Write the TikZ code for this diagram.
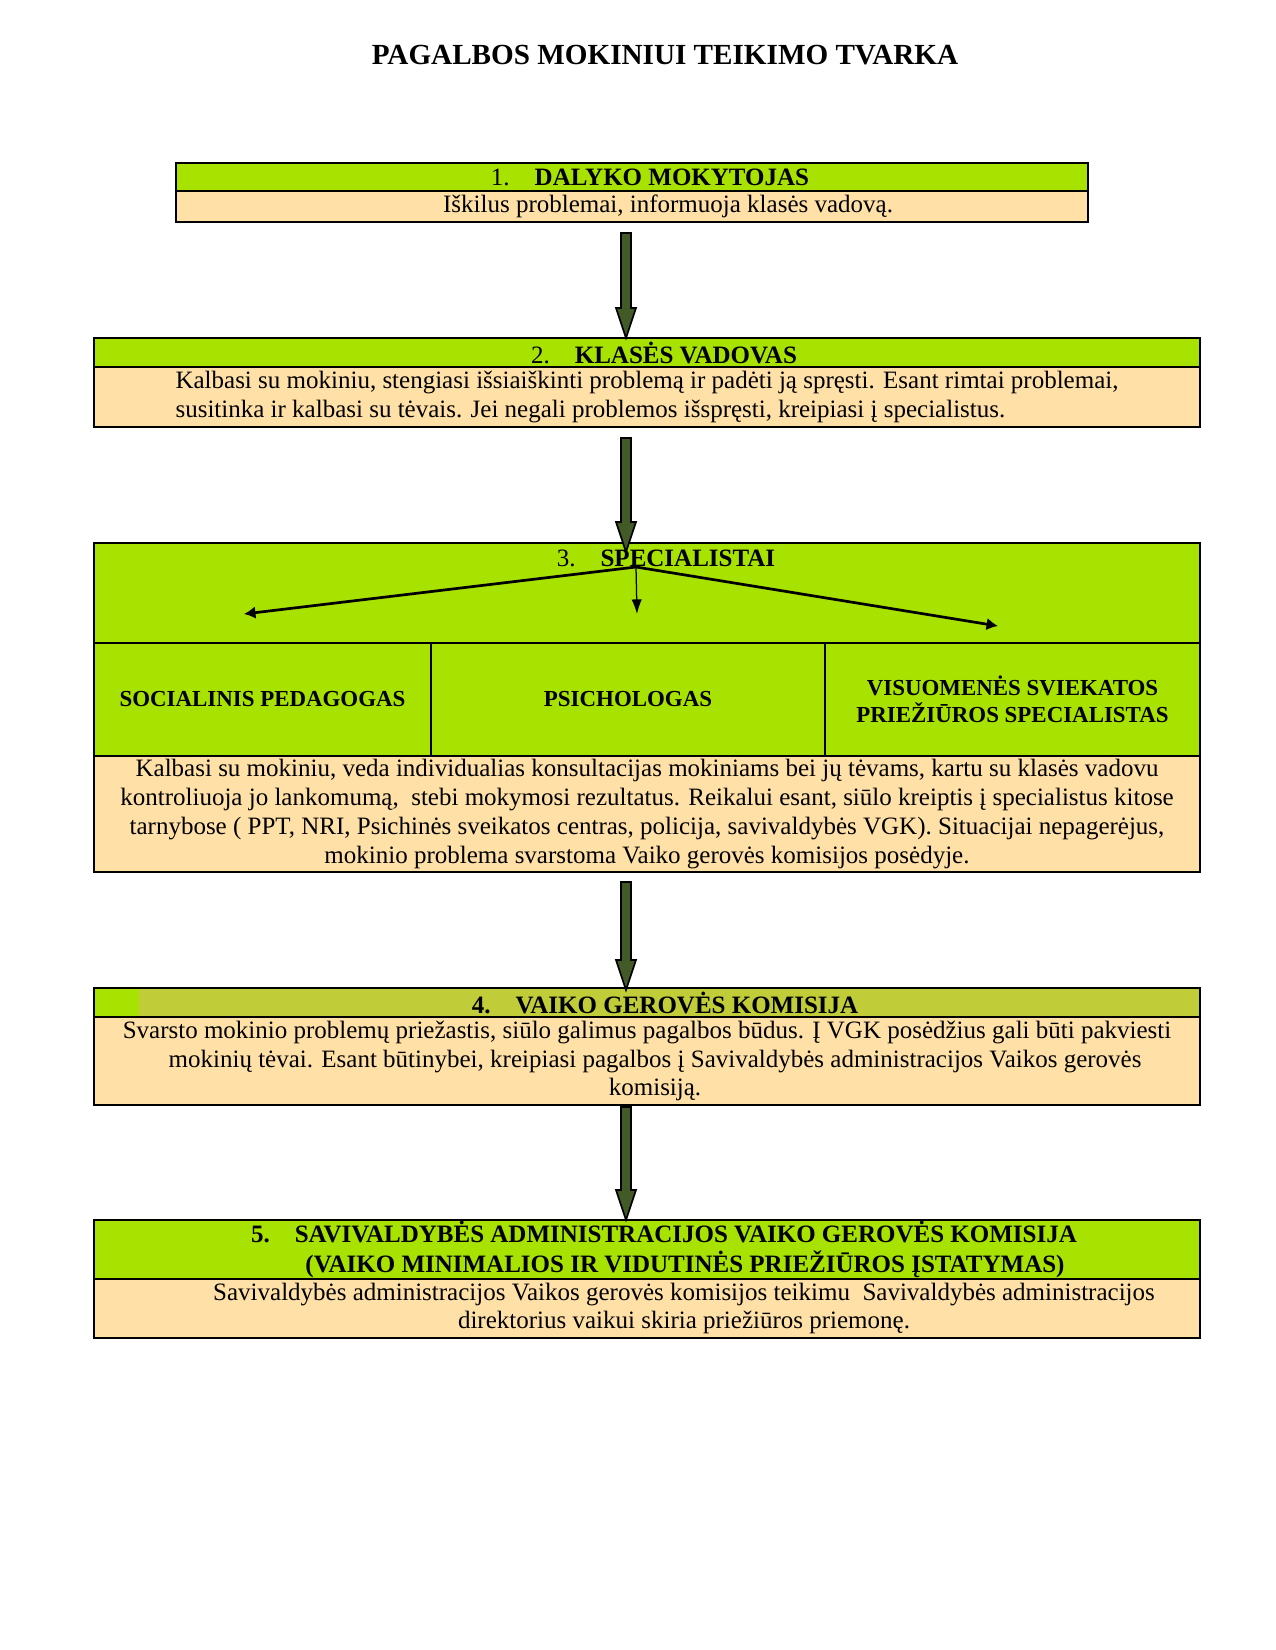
\documentclass[tikz,border=0pt]{standalone}
\usepackage{fontspec}
\setmainfont{Liberation Serif}
\usetikzlibrary{positioning, calc, arrows.meta}

\definecolor{hdrgreen}{RGB}{168,226,0}
\definecolor{hdrolive}{RGB}{192,204,56}
\definecolor{bodytan}{RGB}{255,224,166}
\definecolor{arrgreen}{RGB}{66,90,40}

\tikzset{
  hdr/.style={draw, fill=hdrgreen, line width=0.8pt, inner sep=0pt, outer sep=0pt,
    align=center, font=\fontsize{12}{14}\selectfont\bfseries},
  txt/.style={draw, fill=bodytan, line width=0.8pt, inner sep=0pt, outer sep=0pt,
    align=center, font=\fontsize{12}{13.8}\selectfont},
  cell/.style={hdr, font=\fontsize{11}{12.8}\selectfont\bfseries},
  bigarr/.style={draw=black, fill=arrgreen, line width=0.8pt, line join=miter},
  subarr/.style={-{Latex[length=5.5pt,width=6pt]}, line width=1.3pt}}

% thick arrow from one box to the next
\newcommand{\bigarrow}[4]{%
  \coordinate (s) at ($(#1.south -| ax)+(0,#2)$);
  \coordinate (e) at ($(#3.north -| ax)+(0,#4)$);
  \draw[bigarr] ($(s)+(-5,0)$) -- ($(e)+(-5,-30)$) -- ($(e)+(-10,-30)$) -- (e)
    -- ($(e)+(10,-30)$) -- ($(e)+(5,-30)$) -- ($(s)+(5,0)$) -- cycle;}

\begin{document}
\begin{tikzpicture}[x=0.48pt, y=-0.48pt]
\useasboundingbox (0,0) rectangle (1275,1650);
\coordinate (ax) at (626,0);

\node (title) at (665,55) {\fontsize{14}{16}\selectfont\bfseries PAGALBOS MOKINIUI TEIKIMO TVARKA};

% 1
\node[hdr, anchor=north west, minimum width=437.76pt, minimum height=13.44pt] (h1) at (176,163)
  {\hspace*{17.3pt}\textmd{1.}\hspace{12pt}DALYKO MOKYTOJAS};
\node[txt, below=0pt of h1, minimum width=437.76pt, minimum height=14.88pt] (b1)
  {\hspace*{34.6pt}\raisebox{-1pt}{Iškilus problemai, informuoja klasės vadovą.}};

% 2
\node[hdr, anchor=north west, minimum width=530.88pt, minimum height=13.92pt] (h2) at (94,338)
  {\hspace*{16.3pt}\textmd{2.}\hspace{12pt}KLASĖS VADOVAS};
\node[txt, below=0pt of h2, align=left, minimum width=530.88pt, minimum height=28.8pt] (b2)
  {Kalbasi su mokiniu, stengiasi išsiaiškinti problemą ir padėti ją spręsti. Esant rimtai problemai,\\
   susitinka ir kalbasi su tėvais. Jei negali problemos išspręsti, kreipiasi į specialistus.};

% 3
\node[hdr, anchor=north west, minimum width=530.88pt, minimum height=48pt] (h3) at (94,543) {};
\node[font=\fontsize{12}{14}\selectfont\bfseries, inner sep=0pt] (t3) at (666,558)
  {\textmd{3.}\hspace{12pt}SPECIALISTAI};
\node[cell, below right=0pt and 0pt of h3.south west, minimum width=161.76pt, minimum height=54.24pt] (c1)
  {SOCIALINIS PEDAGOGAS};
\node[cell, right=0pt of c1, minimum width=189.12pt, minimum height=54.24pt] (c2) {PSICHOLOGAS};
\node[cell, right=0pt of c2, minimum width=180pt, minimum height=54.24pt] (c3)
  {VISUOMENĖS SVIEKATOS\\ PRIEŽIŪROS SPECIALISTAS};
\node[txt, below right=0pt and 0pt of c1.south west, minimum width=530.88pt, minimum height=55.68pt] (b3)
  {Kalbasi su mokiniu, veda individualias konsultacijas mokiniams bei jų tėvams, kartu su klasės vadovu\\
   kontroliuoja jo lankomumą,\ \ stebi mokymosi rezultatus. Reikalui esant, siūlo kreiptis į specialistus kitose\\
   tarnybose ( PPT, NRI, Psichinės sveikatos centras, policija, savivaldybės VGK). Situacijai nepagerėjus,\\
   mokinio problema svarstoma Vaiko gerovės komisijos posėdyje.};
\coordinate (o) at (636,567);
\coordinate (pl) at (244,614);
\coordinate (pm) at (637,614);
\coordinate (pr) at (998,626);
\draw[subarr] (o) -- (pl);
\draw[subarr, line width=0.6pt, -{Latex[length=7pt,width=5pt]}] (o) -- (pm);
\draw[subarr] (o) -- (pr);

% 4
\node[hdr, anchor=north west, fill=hdrolive, minimum width=530.88pt, minimum height=13.92pt,
  path picture={\fill[hdrgreen] (path picture bounding box.north west) rectangle
    ([xshift=21.6pt]path picture bounding box.south west);}] (h4) at (94,988)
  {\hspace*{17.3pt}4.\hspace{12pt}VAIKO GEROVĖS KOMISIJA};
\node[txt, below=0pt of h4, minimum width=530.88pt, minimum height=42.24pt] (b4)
  {Svarsto mokinio problemų priežastis, siūlo galimus pagalbos būdus. Į VGK posėdžius gali būti pakviesti\\
   \hspace*{7.7pt}mokinių tėvai. Esant būtinybei, kreipiasi pagalbos į Savivaldybės administracijos Vaikos gerovės\\
   \hspace*{7.7pt}komisiją.};

% 5
\node[hdr, anchor=north west, minimum width=530.88pt, minimum height=28.32pt] (h5) at (94,1220)
  {\hspace*{16.3pt}5.\hspace{12pt}SAVIVALDYBĖS ADMINISTRACIJOS VAIKO GEROVĖS KOMISIJA\\
   \hspace*{36.5pt}(VAIKO MINIMALIOS IR VIDUTINĖS PRIEŽIŪROS ĮSTATYMAS)};
\node[txt, below=0pt of h5, minimum width=530.88pt, minimum height=28.32pt] (b5)
  {\hspace*{35.5pt}Savivaldybės administracijos Vaikos gerovės komisijos teikimu\ \ Savivaldybės administracijos\\
   \hspace*{35.5pt}direktorius vaikui skiria priežiūros priemonę.};

% connectors
\bigarrow{b1}{11}{h2}{0}
\bigarrow{b2}{11}{h3}{9}
\bigarrow{b3}{10}{h4}{2}
\bigarrow{b4}{2}{h5}{0}
\end{tikzpicture}
\end{document}
